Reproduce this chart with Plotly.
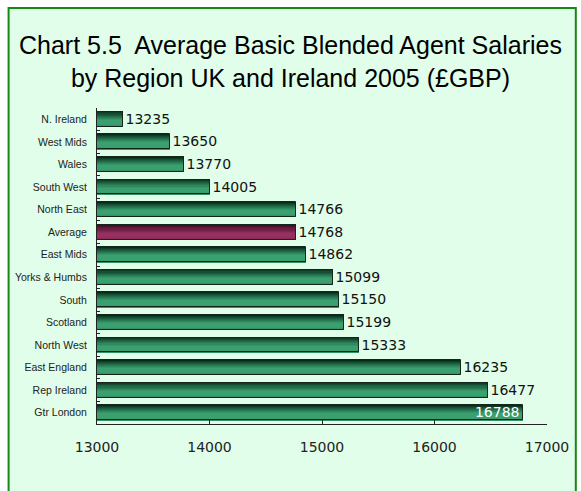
import plotly.graph_objects as go

# Regions, listed top to bottom as they appear on the chart
regions = ["N. Ireland", "West Mids", "Wales", "South West", "North East", "Average",
           "East Mids", "Yorks & Humbs", "South", "Scotland", "North West",
           "East England", "Rep Ireland", "Gtr London"]
salaries = [13235, 13650, 13770, 14005, 14766, 14768, 14862, 15099, 15150, 15199,
            15333, 16235, 16477, 16788]
x_ticks = [13000, 14000, 15000, 16000, 17000]
title_lines = ["Chart 5.5  Average Basic Blended Agent Salaries",
               "by Region UK and Ireland 2005 (£GBP)"]

W, H = 581, 491
ML, MR, MT, MB = 97, 31, 108, 67
PW, PH = W - ML - MR, H - MT - MB

GREEN_TOP, GREEN_BOT = (6, 44, 25), (58, 160, 112)
PLUM_TOP, PLUM_BOT = (48, 6, 28), (150, 48, 96)


def mix(c0, c1, f):
    return "rgb(%d,%d,%d)" % tuple(round(a + (b - a) * f) for a, b in zip(c0, c1))


fig = go.Figure()

# vertical shading of the bars: thin overlapping bands from dark (top) to light (bottom)
thick = 0.66
n_bands = 14
for i in range(n_bands):
    f = i / (n_bands - 1)
    g = min(1.0, (f / 0.6) ** 0.9) if f < 0.6 else 1.0
    if f > 0.9:
        g = 1.0 - (f - 0.9) * 1.2
    colors = [mix(PLUM_TOP, PLUM_BOT, g) if r == "Average" else mix(GREEN_TOP, GREEN_BOT, g)
              for r in regions]
    fig.add_trace(go.Bar(
        y=regions, x=salaries, orientation="h",
        marker=dict(color=colors, line=dict(width=0)),
        width=thick / n_bands * 1.35,
        offset=-thick / 2 + i * thick / n_bands,
        hoverinfo="skip", showlegend=False,
    ))

# outline and value labels
text_pos = ["inside" if v > 16600 else "outside" for v in salaries]
text_col = ["white" if p == "inside" else "#111111" for p in text_pos]
fig.add_trace(go.Bar(
    y=regions, x=salaries, orientation="h",
    marker=dict(color="rgba(0,0,0,0)", line=dict(color="#14261b", width=1)),
    width=thick, offset=-thick / 2,
    text=[str(v) for v in salaries], textposition=text_pos,
    insidetextanchor="end", constraintext="none",
    textfont=dict(family="DejaVu Sans, Verdana, sans-serif", size=14, color=text_col),
    cliponaxis=False, hoverinfo="skip", showlegend=False,
))

# light green panel with a green frame
fx = lambda px: (px - ML) / PW
fy = lambda py: (H - MB - py) / PH
fig.add_shape(type="rect", xref="paper", yref="paper",
              x0=fx(8), x1=fx(579), y0=fy(H + 10), y1=fy(8),
              fillcolor="#e0fee9", line=dict(color="#138a13", width=2), layer="below")

fig.add_annotation(
    text="<br>".join(title_lines), xref="paper", yref="paper",
    x=fx(292), y=fy(62), xanchor="center", yanchor="middle", showarrow=False,
    font=dict(family="Liberation Sans, Arial, sans-serif", size=25, color="#000000"),
)

fig.update_layout(
    width=W, height=H, margin=dict(l=ML, r=MR, t=MT, b=MB),
    paper_bgcolor="white", plot_bgcolor="rgba(0,0,0,0)",
    barmode="overlay", bargap=0,
    xaxis=dict(range=[13000, 17000], tickvals=x_ticks, ticktext=[str(v) for v in x_ticks],
               showline=True, linecolor="#222222", linewidth=1, mirror=False,
               ticks="inside", ticklen=5, tickcolor="#222222", showgrid=False, zeroline=False,
               tickfont=dict(family="DejaVu Sans, Verdana, sans-serif", size=14, color="#222222"),
               ticklabelstandoff=10),
    yaxis=dict(categoryorder="array", categoryarray=regions, autorange="reversed",
               showline=True, linecolor="#222222", linewidth=1,
               ticks="inside", ticklen=3, tickcolor="#222222", tickson="boundaries",
               showgrid=False, zeroline=False,
               tickfont=dict(family="Liberation Sans, Arial, sans-serif", size=10.5, color="#222222"),
               ticklabelstandoff=7),
)

fig.write_html("out.html")
